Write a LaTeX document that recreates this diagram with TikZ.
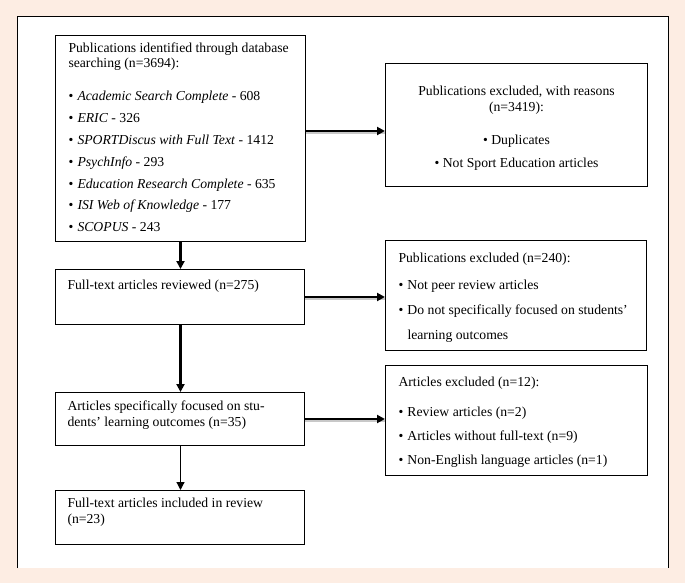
\documentclass[tikz,border=0pt]{standalone}
\usepackage{fontspec}
\setmainfont{Liberation Serif}
\definecolor{page}{RGB}{253,237,227}
\definecolor{shade}{RGB}{200,200,200}
\usetikzlibrary{arrows.meta}
\newcommand{\boxtext}[3]{\begin{minipage}[t][#2][t]{#1}\fontsize{13.7}{15}\selectfont#3\end{minipage}}
\newcommand{\itm}{\makebox[9pt][l]{\textbullet}}

\begin{document}
\begin{tikzpicture}[x=1pt, y=-1pt,
  stage/.style={draw, line width=1pt, inner sep=0pt, anchor=north west},
  flow/.style={line width=2.2pt, -{Triangle[length=8pt,width=8pt]}},
  side/.style={flow, preaction={draw=shade, line width=2.2pt, -, transform canvas={yshift=-1.8pt}}}]
	% page and frame
	\fill[page] (0,0) rectangle (685,583);
	\useasboundingbox (0,0) rectangle (685,583);
	\fill[white] (17,16) rectangle (668,568);
	\draw[line width=0.9pt] (17,568) -- (17,16) -- (668,16) -- (668,568);
	% left column
	\node[stage] (ident) at (55,35) {\boxtext{250pt}{206pt}{\raggedright\leftskip=13pt
		\rule{0pt}{17.5pt}Publications identified through database\\
		searching (n=3694):\\[17.5pt]
		\itm\textit{Academic Search Complete} - 608\\[6.9pt]
		\itm\textit{ERIC} - 326\\[6.9pt]
		\itm\textit{SPORTDiscus with Full Text} - 1412\\[6.9pt]
		\itm\textit{PsychInfo} - 293\\[6.9pt]
		\itm\textit{Education Research Complete} - 635\\[6.9pt]
		\itm\textit{ISI Web of Knowledge} - 177\\[6.9pt]
		\itm\textit{SCOPUS} - 243}};
	\node[stage] (review) at (55,269) {\boxtext{249pt}{55pt}{\raggedright\leftskip=12pt
		\rule{0pt}{20pt}Full-text articles reviewed (n=275)}};
	\node[stage] (focus) at (55,392) {\boxtext{249pt}{53pt}{\raggedright\leftskip=12pt
		\rule{0pt}{18pt}Articles specifically focused on stu-\\[1pt]
		dents’ learning outcomes (n=35)}};
	\node[stage] (incl) at (55,490) {\boxtext{249pt}{54pt}{\raggedright\leftskip=12pt
		\rule{0pt}{17pt}Full-text articles included in review\\[1pt]
		(n=23)}};
	% right column
	\node[stage] (excl1) at (385,63) {\boxtext{262pt}{123pt}{\centering
		\rule{0pt}{32pt}Publications excluded, with reasons\\[1pt]
		(n=3419):\\[18pt]
		\textbullet\ Duplicates\\[8pt]
		\textbullet\ Not Sport Education articles}};
	\node[stage] (excl2) at (385,240) {\boxtext{261pt}{110pt}{\raggedright\leftskip=13pt
		\rule{0pt}{22pt}Publications excluded (n=240):\\[12pt]
		\itm Not peer review articles\\[10pt]
		\itm Do not specifically focused on students’\\[10pt]
		\hspace*{9pt}learning outcomes}};
	\node[stage] (excl3) at (385,365) {\boxtext{262pt}{110pt}{\raggedright\leftskip=13pt
		\rule{0pt}{21pt}Articles excluded (n=12):\\[15pt]
		\itm Review articles (n=2)\\[9pt]
		\itm Articles without full-text (n=9)\\[9pt]
		\itm Non-English language articles (n=1)}};
	% connectors
	\coordinate (r1) at ([yshift=-6pt]excl1.west);
	\draw[side] (ident.east |- r1) -- (r1);
	\draw[side] (review.east) -- (review.east -| excl2.west);
	\draw[side] (focus.east) -- (focus.east -| excl3.west);
	\draw[flow] (ident.south) -- (ident.south |- review.north);
	\draw[flow] (ident.south |- review.south) -- (ident.south |- focus.north);
	\draw[flow, line width=1.2pt] (ident.south |- focus.south) -- (ident.south |- incl.north);
\end{tikzpicture}
\end{document}
